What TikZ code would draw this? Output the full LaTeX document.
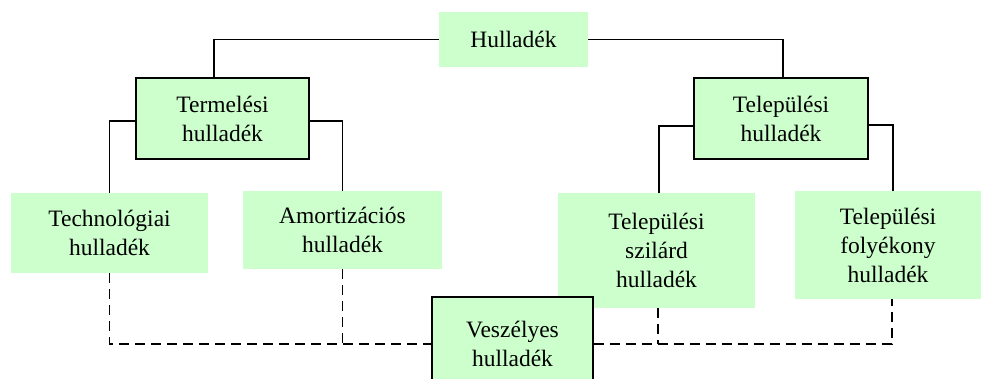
\documentclass[tikz,border=0pt]{standalone}
\usepackage{fontspec}
\setmainfont{Liberation Serif}
\usetikzlibrary{calc}
\definecolor{lightgreen}{RGB}{204,255,204}
\tikzset{
block/.style = {fill=lightgreen, rectangle, align=center, inner sep=0pt, font=\fontsize{23.5}{29}\selectfont},
frame/.style = {block, draw=black, line width=2pt},
link/.style = {draw, line width=1.8pt},
dlink/.style = {draw, line width=1.8pt, dash pattern=on 10pt off 6pt}
}

\begin{document}
\begin{tikzpicture}[x=1pt,y=-1pt]
    \clip (0,0) rectangle (981,378);
    % top level
    \node [block, minimum width=149pt, minimum height=55pt] (hull) at (513.5,39.5) {Hulladék};
    \node [frame, minimum width=173pt, minimum height=81pt] (term) at (222.5,118.5) {Termelési\\hulladék};
    \node [frame, minimum width=174pt, minimum height=81pt] (telep) at (781,118.5) {Települési\\hulladék};
    % leaves
    \node [block, minimum width=197pt, minimum height=80pt] (tech) at (109.5,233) {Technológiai\\hulladék};
    \node [block, minimum width=199pt, minimum height=78pt] (amort) at (342.5,230) {Amortizációs\\hulladék};
    \node [block, minimum width=197pt, minimum height=115pt] (szil) at (656.5,250.5) {Települési\\szilárd\\hulladék};
    \node [block, minimum width=186pt, minimum height=108pt] (foly) at (888,245) {Települési\\folyékony\\hulladék};
    \node [frame, minimum width=161pt, minimum height=94pt] (vesz) at (512.5,344) {Veszélyes\\hulladék};
    % solid connectors
    \draw [link] (hull.west) -| ([xshift=-8.5pt]term.north);
    \draw [link] (hull.east) -| ([xshift=2pt]telep.north);
    \draw [link] ([yshift=-2.5pt]term.west) -| (tech.north);
    \draw [link] ([yshift=-2.5pt]term.east) -| (amort.north);
    \draw [link] ([yshift=-7.5pt]telep.west) -| ([xshift=2.5pt]szil.north);
    \draw [link] ([yshift=-6.5pt]telep.east) -| ([xshift=5pt]foly.north);
    % dashed connectors
    \draw [dlink] (tech.south) |- (vesz.west);
    \draw [dlink] (amort.south) -- (amort.south |- vesz.west);
    \draw [dlink] (vesz.east) -| ([xshift=4pt]foly.south);
    \draw [dlink] ([xshift=1.5pt]szil.south) -- ([xshift=1.5pt]szil.south |- vesz.east);
\end{tikzpicture}
\end{document}
